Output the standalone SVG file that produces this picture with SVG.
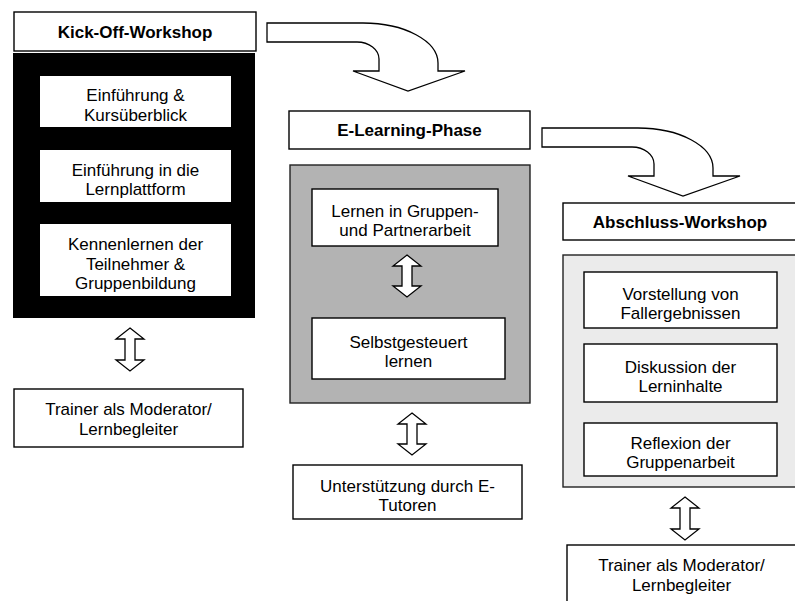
<svg xmlns="http://www.w3.org/2000/svg" width="795" height="601" viewBox="0 0 795 601">
<style>
text{font-family:"Liberation Sans",Arial,sans-serif;font-size:17px;text-anchor:middle;fill:#000}
.h{font-weight:bold}
.b{fill:#fff;stroke:#000;stroke-width:1.4}
.c{fill:#fff;stroke:#000;stroke-width:1.3;stroke-linejoin:miter}
</style>
<rect width="795" height="601" fill="#fff"/>
<g id="connectors">
<path class="c" d="M267,23 L363,23 A75,40 0 0 1 438,63 L438,71 L465,71 L408,91 L353,71 L379,71 L379,59 A22,17 0 0 0 357,42 L267,42 Z"/>
<path class="c" d="M542,128 L638,128 A75,40 0 0 1 713,168 L713,176 L740,176 L683,196 L628,176 L654,176 L654,164 A22,17 0 0 0 632,147 L542,147 Z"/>
<path class="c" d="M130,328 L144,339 L135,339 L135,360 L144,360 L130,371 L116,360 L125,360 L125,339 L116,339 Z"/>
<path class="c" d="M412,413 L426,424 L417,424 L417,444 L426,444 L412,455 L398,444 L407,444 L407,424 L398,424 Z"/>
<path class="c" d="M685,497 L699,508 L690,508 L690,529 L699,529 L685,540 L671,529 L680,529 L680,508 L671,508 Z"/>
</g>
<g id="kickoff-header"><rect class="b" x="14" y="12" width="242" height="39"/><text class="h" x="135" y="37.5">Kick-Off-Workshop</text></g>
<g id="kickoff-phase">
<rect x="13" y="53" width="242" height="265" fill="#000"/>
<g id="ko1"><rect x="40" y="76" width="191" height="51" fill="#fff"/><text x="135.5" y="101">Einführung &amp;</text><text x="135.5" y="120.5">Kursüberblick</text></g>
<g id="ko2"><rect x="40" y="150" width="191" height="52" fill="#fff"/><text x="135.5" y="175.5">Einführung in die</text><text x="135.5" y="195">Lernplattform</text></g>
<g id="ko3"><rect x="40" y="224" width="191" height="72" fill="#fff"/><text x="135.5" y="250">Kennenlernen der</text><text x="135.5" y="269.5">Teilnehmer &amp;</text><text x="135.5" y="289">Gruppenbildung</text></g>
</g>
<g id="trainer-left"><rect class="b" x="14" y="389" width="229" height="58"/><text x="128.5" y="415">Trainer als Moderator/</text><text x="128.5" y="434.5">Lernbegleiter</text></g>
<g id="elearning-header"><rect class="b" x="289" y="111" width="241" height="38"/><text class="h" x="409.5" y="136">E-Learning-Phase</text></g>
<g id="elearning-phase">
<rect x="290" y="165" width="240" height="238" fill="#b3b3b3" stroke="#222" stroke-width="1.4"/>
<g id="el1"><rect class="b" x="312" y="189" width="186" height="57"/><text x="405" y="216.5">Lernen in Gruppen-</text><text x="405" y="236">und Partnerarbeit</text></g>
<path id="el-arrow" class="c" d="M407,255 L421,266 L412,266 L412,286 L421,286 L407,297 L393,286 L402,286 L402,266 L393,266 Z"/>
<g id="el2"><rect class="b" x="312" y="318" width="193" height="61"/><text x="408.5" y="347.5">Selbstgesteuert</text><text x="408.5" y="367">lernen</text></g>
</g>
<g id="tutor"><rect class="b" x="293" y="465" width="229" height="54"/><text x="407.5" y="491.5">Unterstützung durch E-</text><text x="407.5" y="511">Tutoren</text></g>
<g id="abschluss-header"><rect class="b" x="563" y="203" width="240" height="37"/><text class="h" x="680" y="227.5">Abschluss-Workshop</text></g>
<g id="abschluss-phase">
<rect x="563" y="255" width="240" height="232" fill="#ebebeb" stroke="#222" stroke-width="1.4"/>
<g id="ab1"><rect class="b" x="584" y="272" width="193" height="56"/><text x="680.5" y="299.5">Vorstellung von</text><text x="680.5" y="319">Fallergebnissen</text></g>
<g id="ab2"><rect class="b" x="584" y="344" width="193" height="58"/><text x="680.5" y="372.5">Diskussion der</text><text x="680.5" y="392">Lerninhalte</text></g>
<g id="ab3"><rect class="b" x="584" y="423" width="193" height="53"/><text x="680.5" y="448.5">Reflexion der</text><text x="680.5" y="468">Gruppenarbeit</text></g>
</g>
<g id="trainer-right"><rect class="b" x="567" y="545" width="229" height="70"/><text x="681.5" y="571">Trainer als Moderator/</text><text x="681.5" y="590.5">Lernbegleiter</text></g>
</svg>
